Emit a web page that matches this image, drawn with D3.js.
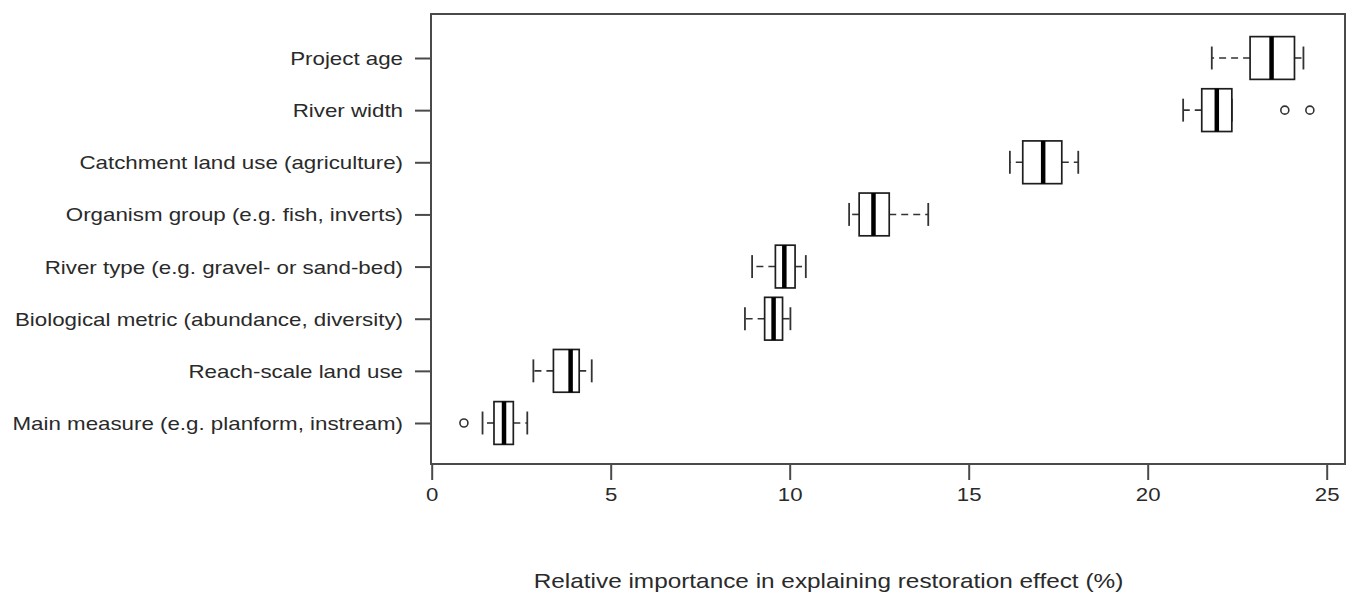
<!DOCTYPE html>
<html>
<head>
<meta charset="utf-8">
<script src="https://cdn.jsdelivr.net/npm/d3@7"></script>
<style>
  html, body { margin: 0; padding: 0; background: #ffffff; }
  svg { display: block; }
  text { font-family: "Liberation Sans", Arial, sans-serif; fill: #2a2a2a; }
</style>
</head>
<body>
<svg id="chart" width="1352" height="598"></svg>
<script>
// ---- data (bottom to top) ----
const categories = [
  "Main measure (e.g. planform, instream)",
  "Reach-scale land use",
  "Biological metric (abundance, diversity)",
  "River type (e.g. gravel- or sand-bed)",
  "Organism group (e.g. fish, inverts)",
  "Catchment land use (agriculture)",
  "River width",
  "Project age"
];
const whiskerLow  = [1.42, 2.84, 8.75, 8.95, 11.66, 16.15, 20.99, 21.79];
const q1          = [1.74, 3.40, 9.30, 9.60, 11.94, 16.51, 21.51, 22.86];
const median      = [2.02, 3.88, 9.55, 9.85, 12.34, 17.08, 21.93, 23.46];
const q3          = [2.28, 4.12, 9.80, 10.15, 12.78, 17.60, 22.35, 24.10];
const whiskerHigh = [2.67, 4.47, 10.02, 10.45, 13.87, 18.06, 22.35, 24.35];
const outliers    = [[0.90], [], [], [], [], [], [23.83, 24.53], []];
const xTicks = [0, 5, 10, 15, 20, 25];
const xTitle = "Relative importance in explaining restoration effect (%)";

// ---- layout ----
const frame = {left: 431, right: 1345, top: 14, bottom: 464};
const svg = d3.select("#chart");
const x = d3.scaleLinear().domain([0, 25]).range([431.7, 1326.7]);
const y = d3.scaleLinear().domain([1, 8]).range([423, 58]);
const unit = Math.abs(y(2) - y(1));
const boxH = 0.82 * unit;
const capH = 0.44 * unit;
const sx = 1.2; // horizontal stretch of the glyphs

const rows = categories.map((c, i) => ({
  pos: i + 1, lo: whiskerLow[i], q1: q1[i], med: median[i], q3: q3[i], hi: whiskerHigh[i], out: outliers[i]
}));

// ---- boxes ----
const g = svg.append("g");
const ink = "#1e1e1e";
rows.forEach(r => {
  const cy = y(r.pos);
  // whiskers (dashed)
  [[r.q1, r.lo], [r.q3, r.hi]].forEach(([a, b]) => {
    if (a !== b) {
      g.append("line").attr("x1", x(a)).attr("x2", x(b)).attr("y1", cy).attr("y2", cy)
        .attr("stroke", "#333").attr("stroke-width", 1.6).attr("stroke-dasharray", "7,5");
    }
  });
  // caps
  [r.lo, r.hi].forEach(v => {
    g.append("line").attr("x1", x(v)).attr("x2", x(v)).attr("y1", cy - capH / 2).attr("y2", cy + capH / 2)
      .attr("stroke", "#333").attr("stroke-width", 1.8);
  });
  // box
  g.append("rect").attr("x", x(r.q1)).attr("y", cy - boxH / 2)
    .attr("width", x(r.q3) - x(r.q1)).attr("height", boxH)
    .attr("fill", "#fff").attr("stroke", ink).attr("stroke-width", 1.7);
  // median
  g.append("line").attr("x1", x(r.med)).attr("x2", x(r.med))
    .attr("y1", cy - boxH / 2).attr("y2", cy + boxH / 2)
    .attr("stroke", "#000").attr("stroke-width", 4.5);
  // outliers
  r.out.forEach(v => {
    g.append("circle").attr("cx", x(v)).attr("cy", cy).attr("r", 4)
      .attr("fill", "none").attr("stroke", "#333").attr("stroke-width", 1.6);
  });
});

// ---- frame ----
svg.append("rect").attr("x", frame.left).attr("y", frame.top)
  .attr("width", frame.right - frame.left).attr("height", frame.bottom - frame.top)
  .attr("fill", "none").attr("stroke", "#4a4a4a").attr("stroke-width", 2);

// ---- axes ----
const xAxis = svg.append("g").attr("transform", `translate(0,${frame.bottom})`)
  .call(d3.axisBottom(x).tickValues(xTicks).tickSize(16).tickPadding(0).tickFormat(d3.format("d")));
xAxis.select(".domain").remove();
xAxis.selectAll(".tick line").attr("stroke", "#4a4a4a").attr("stroke-width", 2);
xAxis.selectAll(".tick text")
  .attr("y", 0).attr("dy", null)
  .attr("transform", `translate(0,37) scale(${sx},1)`)
  .attr("font-size", 18.5).attr("text-anchor", "middle");

const yAxis = svg.append("g").attr("transform", `translate(${frame.left},0)`)
  .call(d3.axisLeft(y).tickValues(d3.range(1, categories.length + 1)).tickSize(16)
    .tickFormat(d => categories[d - 1]));
yAxis.select(".domain").remove();
yAxis.selectAll(".tick line").attr("stroke", "#4a4a4a").attr("stroke-width", 2);
yAxis.selectAll(".tick text")
  .attr("x", -28 / sx).attr("dy", "0.35em")
  .attr("transform", `scale(${sx},1)`)
  .attr("font-size", 18.6).attr("text-anchor", "end");

// ---- title ----
svg.append("text")
  .attr("transform", `translate(${(533 + 1124) / 2},588) scale(${sx},1)`)
  .attr("text-anchor", "middle").attr("font-size", 20.3)
  .text(xTitle);
</script>
</body>
</html>
